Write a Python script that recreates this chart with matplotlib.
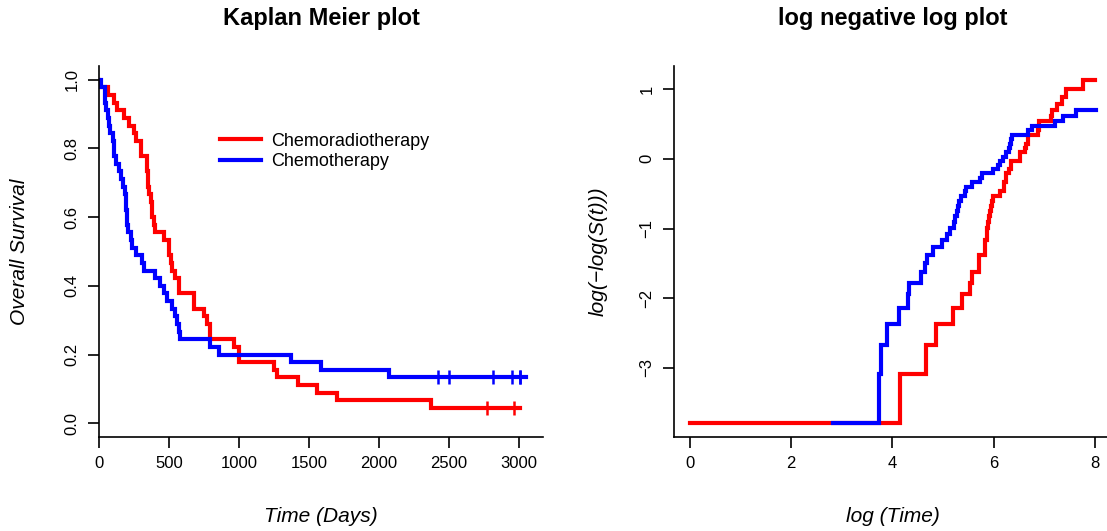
import numpy as np
import matplotlib
matplotlib.use("Agg")
import matplotlib.pyplot as plt

plt.rcParams['font.family'] = ['Liberation Sans', 'DejaVu Sans']

# survival data, 45 patients per arm (days from start of treatment)
crt_deaths = [1, 63, 106, 129, 182, 217, 253, 265, 301, 301,
              341, 341, 353, 353, 360, 368, 375, 382, 390, 401,
              461, 497, 497, 512, 520, 544, 568, 568, 676, 676,
              747, 771, 795, 795, 962, 998, 998, 1249, 1273, 1420,
              1559, 1703, 2371]
crt_censored = [2772, 2966]
crt_last_followup = 3010

ct_deaths = [17, 42, 44, 49, 62, 74, 76, 97, 104, 109,
             122, 145, 160, 172, 186, 190, 194, 198, 202, 210,
             229, 234, 262, 306, 318, 401, 437, 461, 485, 520,
             544, 556, 568, 575, 795, 855, 1368, 1583, 2072]
ct_censored = [2421, 2500, 2815, 2951, 3009, 3009]
ct_last_followup = 3050

group_names = ["Chemoradiotherapy", "Chemotherapy"]
group_colors = ["#ff0000", "#0000ff"]


def kaplan_meier(deaths, censored):
    deaths = np.asarray(deaths, dtype=float)
    obs = np.concatenate([deaths, np.asarray(censored, dtype=float)])
    times = np.unique(deaths)
    surv = []
    s = 1.0
    for t in times:
        at_risk = np.sum(obs >= t)
        d = np.sum(deaths == t)
        s *= 1.0 - d / at_risk
        surv.append(s)
    return times, np.array(surv)


def surv_at(times, surv, t):
    idx = np.searchsorted(times, t, side='right') - 1
    return np.where(idx >= 0, surv[np.clip(idx, 0, None)], 1.0)


groups = [
    (crt_deaths, crt_censored, crt_last_followup),
    (ct_deaths, ct_censored, ct_last_followup),
]
fits = [kaplan_meier(d, c) for d, c, _ in groups]

W, H = 1107, 531
fig = plt.figure(figsize=(W / 100, H / 100), dpi=100)

# axes placed in pixels: left, top, right, bottom
def px_axes(x0, y0, x1, y1):
    return fig.add_axes([x0 / W, (H - y1) / H, (x1 - x0) / W, (y1 - y0) / H])

max_time = max(g[2] for g in groups)
ax1 = px_axes(99, 66, 99 + 0.14 * max_time * 1.04, 437)

log_lo = 0.0
log_hi = np.log(max_time)
pad = 0.04 * (log_hi - log_lo)
xl2 = (log_lo - pad, log_hi + pad)
ax2 = px_axes(690 + xl2[0] * 50.6, 66, 690 + xl2[1] * 50.6, 437)

# Kaplan-Meier curves
for (deaths, cens, last), (times, surv), col, name in zip(groups, fits, group_colors, group_names):
    x = np.concatenate([[0.0], times, [last]])
    y = np.concatenate([[1.0], surv, [surv[-1]]])
    ax1.step(x, y, where='post', color=col, lw=3, label=name, solid_joinstyle='miter')
    ax1.plot(cens, surv_at(times, surv, np.asarray(cens, dtype=float)), ls='none',
             marker='|', ms=10, mew=1.8, color=col)

ax1.set_xlim(0, max_time * 1.04)
ax1.set_ylim(-0.04, 1.04)
ax1.set_xticks([0, 500, 1000, 1500, 2000, 2500, 3000])
ax1.set_yticks([0.0, 0.2, 0.4, 0.6, 0.8, 1.0])
ax1.set_yticklabels(["0.0", "0.2", "0.4", "0.6", "0.8", "1.0"])

leg = ax1.legend(loc='upper left', bbox_to_anchor=(0.272, 0.82), frameon=False,
                 fontsize=13, handlelength=2.3, handletextpad=0.55,
                 borderpad=0, borderaxespad=0, labelspacing=0.2)

# complementary log-log curves
lo_y, hi_y = [], []
for (deaths, cens, last), (times, surv), col in zip(groups, fits, group_colors):
    lx = np.log(np.concatenate([times, [last]]))
    ly = np.log(-np.log(np.concatenate([surv, [surv[-1]]])))
    lo_y.append(ly.min())
    hi_y.append(ly.max())
    ax2.step(lx, ly, where='post', color=col, lw=3, solid_joinstyle='miter')

ylo, yhi = min(lo_y), max(hi_y)
ypad = 0.04 * (yhi - ylo)
ax2.set_xlim(*xl2)
ax2.set_ylim(ylo - ypad, yhi + ypad)
ax2.set_xticks([0, 2, 4, 6, 8])
ax2.set_yticks([-3, -2, -1, 0, 1])

for ax, title, xlab, ylab in [
    (ax1, "Kaplan Meier plot", "Time (Days)", "Overall Survival"),
    (ax2, "log negative log plot", "log (Time)", "log(\u2212log(S(t)))"),
]:
    for side in ('top', 'right'):
        ax.spines[side].set_visible(False)
    for side in ('left', 'bottom'):
        ax.spines[side].set_linewidth(1.2)
    ax.tick_params(direction='out', length=8, width=1.2, labelsize=12, pad=6)
    for lab in ax.get_yticklabels():
        lab.set_rotation(90)
        lab.set_va('center')
    ax.set_title(title, fontsize=17, fontweight='bold', y=1.127, va='center', pad=0)
    ax.set_xlabel(xlab, fontsize=15, style='italic')
    ax.xaxis.set_label_coords(0.5, -0.213)
    ax.xaxis.label.set_va('center')
    ax.set_ylabel(ylab, fontsize=15, style='italic')
    ax.yaxis.label.set_va('center')

ax1.yaxis.set_label_coords(-0.178, 0.5)
ax2.yaxis.set_label_coords(-0.173, 0.5)

fig.savefig("out.png", dpi=100)
